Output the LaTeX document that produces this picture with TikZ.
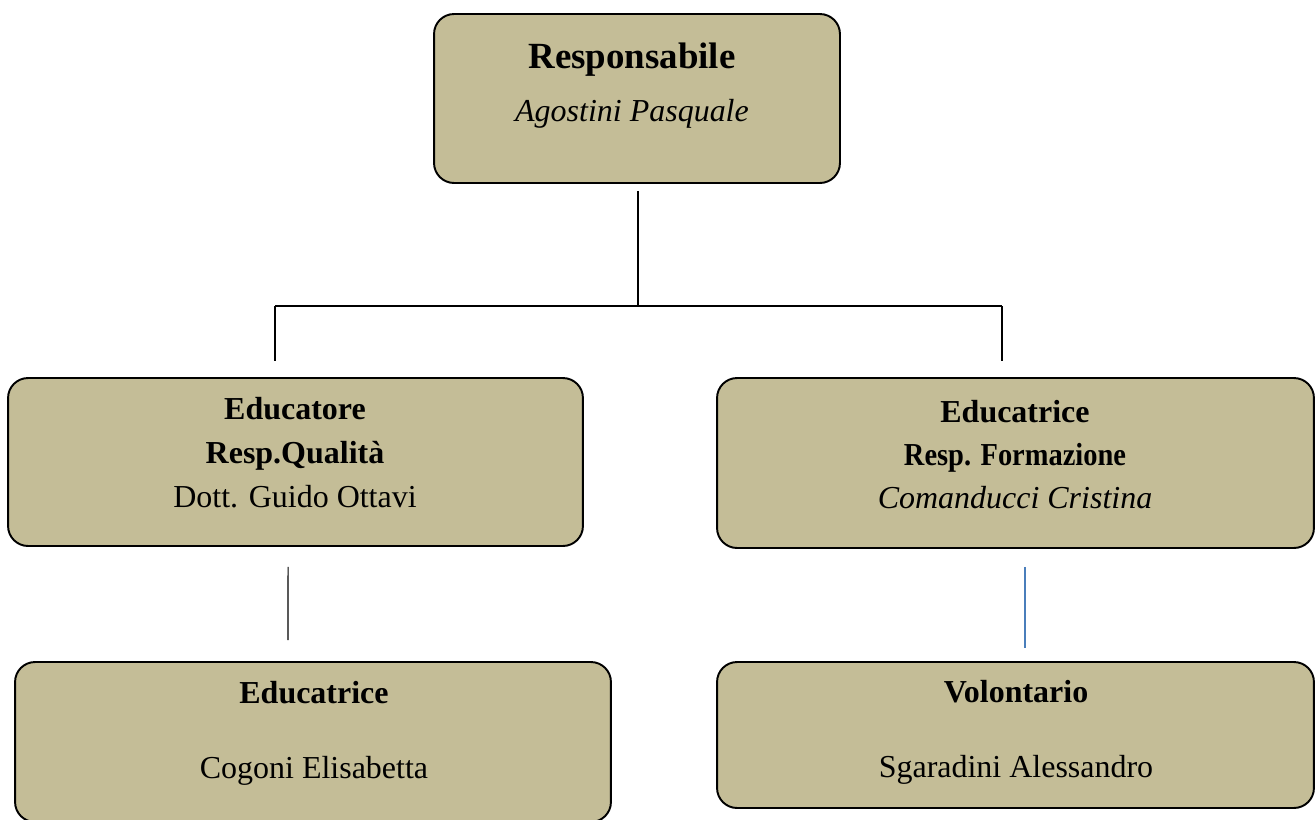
\documentclass[tikz,border=0pt]{standalone}
\usepackage{fontspec}
\setmainfont{Liberation Serif}
\usepackage{tikz}
\usetikzlibrary{positioning}
\usetikzlibrary{calc}
\definecolor{boxtan}{HTML}{C4BD97}
\definecolor{lineblue}{HTML}{4A7EBB}

\begin{document}
\begin{tikzpicture}[x=0.02cm,y=-0.02cm,semithick]
\tikzstyle{box} = [rectangle, draw=black, line width=1.1pt, fill=boxtan, rounded corners=0.4cm, inner sep=0pt]
\tikzstyle{txt} = [anchor=base, inner sep=0pt]
\tikzstyle{link} = [draw=black, line width=0.7pt]

\useasboundingbox (0,0) rectangle (1316,819);

\node[box, minimum width=8.12cm, minimum height=3.38cm] (RESP) at (637,98.5) {};
\node[box, minimum width=11.5cm, minimum height=3.36cm] (EDUQ) at (295.5,462) {};
\node[box, minimum width=11.94cm, minimum height=3.4cm] (EDUF) at (1015.5,463) {};
\node[box, minimum width=11.92cm, minimum height=3.2cm] (EDUC) at (313,742) {};
\node[box, minimum width=11.94cm, minimum height=2.92cm] (VOLO) at (1015.5,735) {};

\node[txt, font=\fontsize{18.2}{30.6}\selectfont] (RESPTXT) at (632,68)
   {
      \begin{tabular}[t]{@{}c@{}}
         {\fontsize{21}{21}\selectfont\textbf{Responsabile}}\\
         \textit{Agostini Pasquale}
      \end{tabular}
   };

\node[txt, font=\fontsize{18.2}{25.2}\selectfont] (EDUQTXT) at (295,419)
   {
      \begin{tabular}[t]{@{}c@{}}
         \textbf{Educatore}\\
         \textbf{Resp.Qualità}\\
         Dott. Guido Ottavi
      \end{tabular}
   };

\node[txt, font=\fontsize{18.2}{24.7}\selectfont] (EDUFTXT) at (1015,422)
   {
      \begin{tabular}[t]{@{}c@{}}
         \textbf{Educatrice}\\
         \scalebox{0.89}[1]{\textbf{Resp. Formazione}}\\
         \textit{Comanducci Cristina}
      \end{tabular}
   };

\node[txt, font=\fontsize{18.2}{43.1}\selectfont] (EDUCTXT) at (314,703)
   {
      \begin{tabular}[t]{@{}c@{}}
         \textbf{Educatrice}\\
         Cogoni Elisabetta
      \end{tabular}
   };

\node[txt, font=\fontsize{18.2}{43.1}\selectfont] (VOLOTXT) at (1016,702)
   {
      \begin{tabular}[t]{@{}c@{}}
         \textbf{Volontario}\\
         Sgaradini Alessandro
      \end{tabular}
   };

\coordinate (JOINL) at (275,306);
\coordinate (JOINR) at (1002,306);

\path[link] ([xshift=0.6pt,yshift=-4pt]RESP.south) -- ([xshift=0.6pt]RESP.south |- JOINL);
\path[link] (JOINL) -- (JOINR);
\path[link] (JOINL) -- ([yshift=9pt]EDUQ.north -| JOINL);
\path[link] (JOINR) -- ([yshift=9pt]EDUF.north -| JOINR);

\path[link] ([xshift=-4.2pt,yshift=-11.3pt]EDUQ.south) -- ([xshift=-14.2pt,yshift=11.9pt]EDUC.north);
\path[draw=lineblue, line width=1pt] ([xshift=5.4pt,yshift=-10.2pt]EDUF.south) -- ([xshift=5.4pt,yshift=7.4pt]VOLO.north);
\end{tikzpicture}
\end{document}
